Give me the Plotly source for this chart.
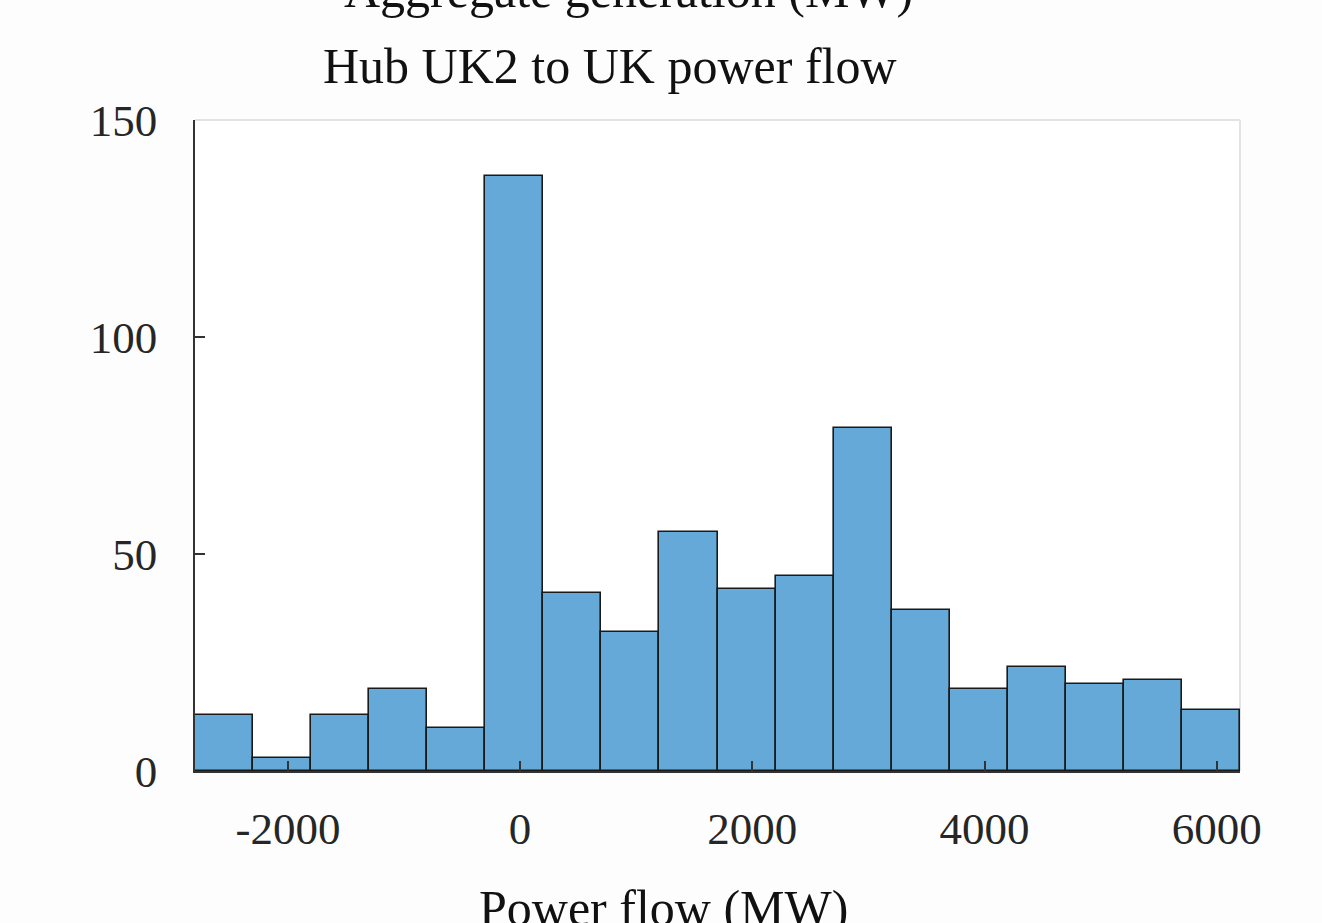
import plotly.graph_objects as go

# Histogram data (bin width 500 MW)
bin_left_edges = [-2800, -2300, -1800, -1300, -800, -300, 200, 700, 1200,
                  1700, 2200, 2700, 3200, 3700, 4200, 4700, 5200, 5700]
bin_width = 500
counts = [13, 3, 13, 19, 10, 137, 41, 32, 55, 42, 45, 79, 37, 19, 24, 20, 21, 14]
bin_centers = [e + bin_width / 2 for e in bin_left_edges]

x_ticks = [-2000, 0, 2000, 4000, 6000]
x_tick_text = ["-2000", "0", "2000", "4000", "6000"]
y_ticks = [0, 50, 100, 150]

title_text = "Hub UK2 to UK power flow"
upper_text = "Aggregate generation (MW)"
x_label = "Power flow (MW)"

FONT = "Liberation Serif, Times New Roman, serif"

fig = go.Figure()
fig.add_trace(go.Bar(
    x=bin_centers, y=counts, width=bin_width,
    marker=dict(color="#64a9d8", line=dict(color="#1a1a1a", width=1.6)),
    showlegend=False,
))

W, H = 1322, 923
L, R, T, B = 195, 82, 120, 152
ph = H - T - B

def py(ypx):
    return (H - B - ypx) / ph

def px(xpx):
    return (xpx - L) / (W - L - R)

fig.update_layout(
    width=W, height=H,
    margin=dict(l=L, r=R, t=T, b=B, pad=0),
    paper_bgcolor="#fdfdfd", plot_bgcolor="white",
    font=dict(family=FONT, size=45, color="#262626"),
    bargap=0,
    xaxis=dict(range=[-2800, 6200], tickvals=x_ticks, ticktext=x_tick_text,
               ticks="inside", ticklen=10,
               tickwidth=1.5, tickcolor="#333333", showline=True, linecolor="#333333",
               linewidth=1.5, showgrid=False, zeroline=False,
               ticklabelstandoff=17, tickfont=dict(size=45, color="#262626")),
    yaxis=dict(range=[0, 150], tickvals=y_ticks, ticks="inside", ticklen=10,
               tickwidth=1.5, tickcolor="#333333", showline=True, linecolor="#333333",
               linewidth=1.5, showgrid=False, zeroline=False,
               ticklabelstandoff=27, tickfont=dict(size=45, color="#262626")),
    shapes=[
        dict(type="line", xref="paper", yref="paper", x0=0, x1=1, y0=1, y1=1,
             line=dict(color="#e3e3e3", width=2), layer="below"),
        dict(type="line", xref="paper", yref="paper", x0=1, x1=1, y0=0, y1=1,
             line=dict(color="#e3e3e3", width=2), layer="below"),
    ],
    annotations=[
        dict(text=title_text, xref="paper", yref="paper", x=px(610), y=py(66),
             xanchor="center", yanchor="middle", showarrow=False,
             font=dict(size=50, color="#111111", family=FONT)),
        dict(text=upper_text, xref="paper", yref="paper", x=px(628), y=py(-10),
             xanchor="center", yanchor="middle", showarrow=False,
             font=dict(size=50, color="#111111", family=FONT)),
        dict(text=x_label, xref="paper", yref="paper", x=px(663), y=py(908),
             xanchor="center", yanchor="middle", showarrow=False,
             font=dict(size=50, color="#111111", family=FONT)),
    ],
)

fig.write_html("out.html")
